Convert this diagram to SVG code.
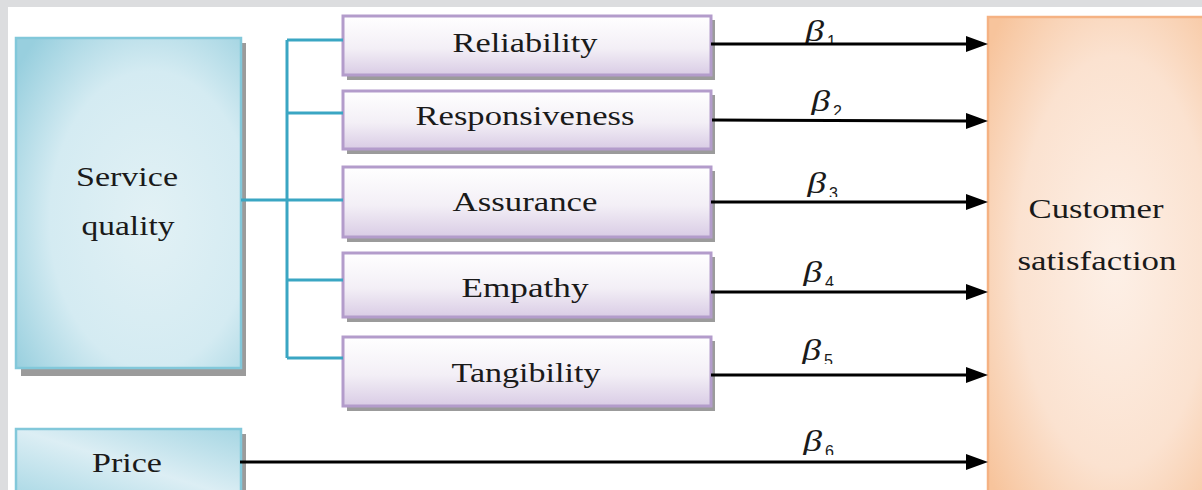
<svg xmlns="http://www.w3.org/2000/svg" width="1202" height="490" viewBox="0 0 1202 490">
<defs>
<linearGradient id="gTeal2" x1="0" y1="1" x2="1" y2="0">
<stop offset="0" stop-color="#a9d8e5"/>
<stop offset="0.5" stop-color="#dceef4"/>
<stop offset="1" stop-color="#a6d6e3"/>
</linearGradient>
<radialGradient id="gSQ" cx="0.6" cy="0.55" r="0.75">
<stop offset="0" stop-color="#e2f1f5"/>
<stop offset="0.6" stop-color="#d4ebf2"/>
<stop offset="1" stop-color="#98cfde"/>
</radialGradient>
<linearGradient id="gPurple" x1="0" y1="0" x2="0" y2="1">
<stop offset="0" stop-color="#ffffff"/>
<stop offset="0.55" stop-color="#f3eff6"/>
<stop offset="1" stop-color="#d9cce5"/>
</linearGradient>
<radialGradient id="gOrange" cx="0.55" cy="0.5" r="0.7">
<stop offset="0" stop-color="#fdf0e7"/>
<stop offset="0.6" stop-color="#fbe2d0"/>
<stop offset="1" stop-color="#f7c49c"/>
</radialGradient>
<marker id="arr" markerUnits="userSpaceOnUse" markerWidth="22" markerHeight="16" refX="4" refY="8" orient="auto">
<path d="M0,0 L22,8 L0,16 z" fill="#000"/>
</marker>
<clipPath id="c1" clipPathUnits="userSpaceOnUse"><rect x="790" y="10" width="70" height="35"/></clipPath>
<clipPath id="c2" clipPathUnits="userSpaceOnUse"><rect x="790" y="80" width="70" height="35"/></clipPath>
<clipPath id="c3" clipPathUnits="userSpaceOnUse"><rect x="790" y="162" width="70" height="35"/></clipPath>
<clipPath id="c4" clipPathUnits="userSpaceOnUse"><rect x="790" y="251" width="70" height="35"/></clipPath>
<clipPath id="c5" clipPathUnits="userSpaceOnUse"><rect x="790" y="329" width="70" height="35"/></clipPath>
<clipPath id="c6" clipPathUnits="userSpaceOnUse"><rect x="790" y="420" width="70" height="35"/></clipPath>
</defs>
<style>
.lbl{font-family:"Liberation Serif","Times New Roman",serif;font-size:27px;fill:#1a1a1a;text-anchor:middle}
.beta{font-family:"Liberation Serif","Times New Roman",serif;font-style:italic;font-size:29px;fill:#1a1a1a}
.sub{font-family:"Liberation Sans",Arial,sans-serif;font-size:16px;fill:#1a1a1a}
.shadow{fill:#9b9b9b}
.pbox{fill:url(#gPurple);stroke:#b39ccb;stroke-width:3}
.tbox{stroke:#82c8da;stroke-width:2.5}
.teal{stroke:#3aa6c3;stroke-width:3;fill:none}
.arrow{stroke:#000;stroke-width:3;fill:none;marker-end:url(#arr)}
</style>
<rect x="0" y="0" width="1202" height="490" fill="#dcdddf"/>
<rect x="8" y="7" width="1200" height="490" fill="#ffffff"/>

<g id="service-quality">
<rect class="shadow" x="21" y="43" width="225" height="333"/>
<rect class="tbox" x="16" y="38" width="225" height="330" fill="url(#gSQ)"/>
<text class="lbl" x="127" y="186" textLength="102" lengthAdjust="spacingAndGlyphs">Service</text>
<text class="lbl" x="128" y="235" textLength="93" lengthAdjust="spacingAndGlyphs">quality</text>
</g>

<g id="price">
<rect class="shadow" x="21" y="434" width="225" height="70"/>
<rect class="tbox" x="16" y="429" width="225" height="70" fill="url(#gTeal2)"/>
<text class="lbl" x="127" y="472" textLength="70" lengthAdjust="spacingAndGlyphs">Price</text>
</g>

<g id="reliability">
<rect class="shadow" x="347" y="20" width="368" height="60"/>
<rect class="pbox" x="343" y="16" width="368" height="59"/>
<text class="lbl" x="525" y="52" textLength="145" lengthAdjust="spacingAndGlyphs">Reliability</text>
</g>
<g id="responsiveness">
<rect class="shadow" x="347" y="95" width="368" height="59"/>
<rect class="pbox" x="343" y="91" width="368" height="58"/>
<text class="lbl" x="525" y="125" textLength="219" lengthAdjust="spacingAndGlyphs">Responsiveness</text>
</g>
<g id="assurance">
<rect class="shadow" x="347" y="171" width="368" height="71"/>
<rect class="pbox" x="343" y="167" width="368" height="70"/>
<text class="lbl" x="525" y="211" textLength="145" lengthAdjust="spacingAndGlyphs">Assurance</text>
</g>
<g id="empathy">
<rect class="shadow" x="347" y="257" width="368" height="65"/>
<rect class="pbox" x="343" y="253" width="368" height="64"/>
<text class="lbl" x="525" y="297" textLength="127" lengthAdjust="spacingAndGlyphs">Empathy</text>
</g>
<g id="tangibility">
<rect class="shadow" x="347" y="341" width="368" height="70"/>
<rect class="pbox" x="343" y="337" width="368" height="69"/>
<text class="lbl" x="526" y="382" textLength="149" lengthAdjust="spacingAndGlyphs">Tangibility</text>
</g>

<g id="customer-satisfaction">
<rect x="988" y="17" width="230" height="490" fill="url(#gOrange)" stroke="#f5b283" stroke-width="2.5"/>
<text class="lbl" x="1096" y="218" textLength="135" lengthAdjust="spacingAndGlyphs">Customer</text>
<text class="lbl" x="1097" y="270" textLength="159" lengthAdjust="spacingAndGlyphs">satisfaction</text>
</g>

<g id="labels">
<g clip-path="url(#c1)"><text class="beta" x="805" y="41" textLength="19" lengthAdjust="spacingAndGlyphs">β</text><text class="sub" x="827" y="47">1</text></g>
<g clip-path="url(#c2)"><text class="beta" x="811" y="111" textLength="19" lengthAdjust="spacingAndGlyphs">β</text><text class="sub" x="833" y="117">2</text></g>
<g clip-path="url(#c3)"><text class="beta" x="807" y="193" textLength="19" lengthAdjust="spacingAndGlyphs">β</text><text class="sub" x="829" y="199">3</text></g>
<g clip-path="url(#c4)"><text class="beta" x="803" y="282" textLength="19" lengthAdjust="spacingAndGlyphs">β</text><text class="sub" x="825" y="288">4</text></g>
<g clip-path="url(#c5)"><text class="beta" x="802" y="360" textLength="19" lengthAdjust="spacingAndGlyphs">β</text><text class="sub" x="824" y="366">5</text></g>
<g clip-path="url(#c6)"><text class="beta" x="803" y="451" textLength="19" lengthAdjust="spacingAndGlyphs">β</text><text class="sub" x="825" y="457">6</text></g>
</g>

<g id="connectors">
<path class="teal" d="M241,200 H287 M287,40 V358 M287,40 H343 M287,113 H343 M287,200 H343 M287,280 H343 M287,358 H343"/>
<line class="arrow" x1="711" y1="44" x2="970" y2="44"/>
<line class="arrow" x1="712" y1="120" x2="970" y2="121"/>
<line class="arrow" x1="711" y1="202" x2="970" y2="202"/>
<line class="arrow" x1="711" y1="292" x2="970" y2="292"/>
<line class="arrow" x1="711" y1="375" x2="970" y2="375"/>
<line class="arrow" x1="240" y1="462" x2="970" y2="462"/>
</g>
</svg>
